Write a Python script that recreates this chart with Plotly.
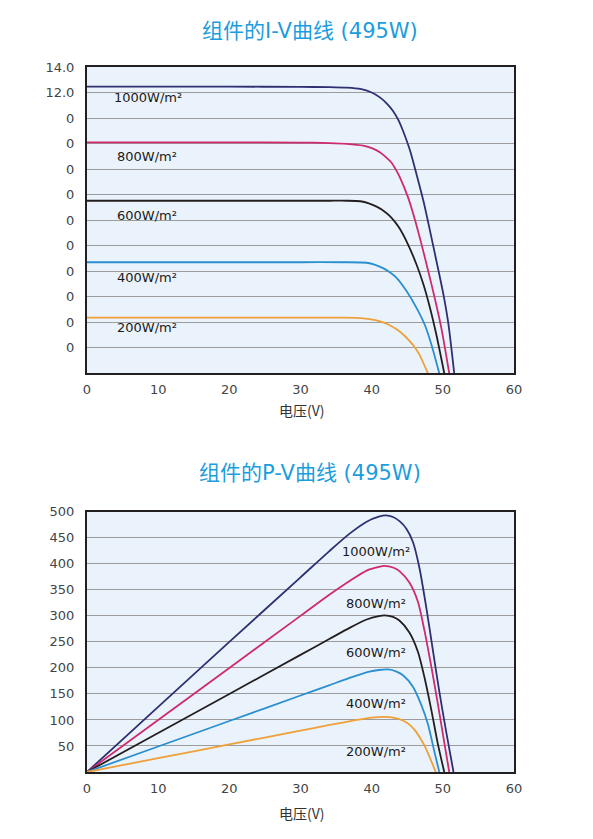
import plotly.graph_objects as go

# ---------------- data ----------------
labels = ["1000W/m²", "800W/m²", "600W/m²", "400W/m²", "200W/m²"]
colors = ["#2f2f74", "#cf2a6e", "#231f20", "#2a8fd0", "#efa038"]

# I-V curves (voltage V, current in grid units)
iv_v_1000 = [0, 10, 20, 30, 34.1, 36.5, 38.4, 40.0, 41.2, 42.2, 43.0, 43.8, 44.4, 45.4, 46.3, 47.3, 48.2, 49.1, 50.1, 50.8, 51.6]
iv_i_1000 = [11.23, 11.23, 11.23, 11.22, 11.21, 11.19, 11.14, 11.0, 10.8, 10.55, 10.28, 9.9, 9.5, 8.72, 7.8, 6.72, 5.58, 4.4, 3.06, 1.9, 0]
iv_v_800 = [0, 10, 20, 30, 34.1, 36.5, 38.8, 40.2, 41.2, 42.0, 42.8, 43.4, 44.0, 45.1, 46.1, 47.0, 47.96, 48.9, 49.8, 50.9]
iv_i_800 = [9.05, 9.05, 9.05, 9.04, 9.02, 8.99, 8.92, 8.8, 8.65, 8.47, 8.25, 7.98, 7.66, 6.9, 6.0, 5.06, 3.99, 2.9, 1.76, 0]
iv_v_600 = [0, 10, 20, 30, 34.1, 36.5, 38.4, 39.6, 40.7, 41.7, 42.6, 43.3, 44.0, 45.1, 46.3, 47.3, 48.2, 49.1, 50.2]
iv_i_600 = [6.76, 6.76, 6.76, 6.76, 6.76, 6.76, 6.74, 6.66, 6.53, 6.36, 6.15, 5.92, 5.64, 5.05, 4.26, 3.46, 2.56, 1.5, 0]
iv_v_400 = [0, 10, 20, 30, 36.0, 39.3, 40.5, 41.6, 42.6, 43.5, 44.9, 46.3, 47.5, 48.4, 49.5]
iv_i_400 = [4.35, 4.35, 4.35, 4.35, 4.35, 4.33, 4.25, 4.12, 3.95, 3.74, 3.22, 2.56, 1.87, 1.12, 0]
iv_v_200 = [0, 10, 20, 30, 35.5, 37.9, 39.7, 41.2, 42.4, 43.5, 44.5, 45.4, 46.2, 46.8, 47.9]
iv_i_200 = [2.18, 2.18, 2.18, 2.18, 2.18, 2.17, 2.12, 2.03, 1.9, 1.72, 1.5, 1.24, 0.96, 0.68, 0]

# P-V curves (voltage V, power W)
pv_v_1000 = [0, 10, 20, 30, 34.1, 36.9, 39.3, 41.0, 42.0, 43.0, 44.0, 44.9, 45.8, 46.7, 47.7, 48.6, 49.5, 50.5, 51.5]
pv_p_1000 = [0, 125, 250, 374, 425, 458, 481, 490.5, 493, 490, 481, 467, 442, 393, 314, 234, 155, 75, 0]
pv_v_800 = [0, 10, 20, 30, 34.1, 36.9, 39.3, 41.0, 41.8, 43.0, 43.9, 45.3, 46.5, 47.4, 48.4, 49.3, 50.1, 50.9]
pv_p_800 = [0, 100, 200, 300, 341, 367, 387, 394, 396, 393, 386, 364, 327, 273, 201, 131, 65, 0]
pv_v_600 = [0, 10, 20, 30, 34.1, 36.9, 39.3, 41.0, 41.8, 43.0, 43.9, 45.3, 46.5, 47.4, 48.4, 49.3, 50.2]
pv_p_600 = [0, 75, 150, 225, 256, 277, 293, 299.5, 301, 298, 291, 268, 231, 183, 118, 54, 0]
pv_v_400 = [0, 10, 20, 30, 34.1, 36.9, 39.7, 41.0, 42.3, 43.4, 44.4, 45.8, 47.0, 47.9, 48.8, 49.5]
pv_p_400 = [0, 49, 98, 147, 167, 181, 193, 196, 197, 193.5, 186, 164, 128, 92, 40, 0]
pv_v_200 = [0, 10, 20, 30, 34.1, 37.9, 40.0, 41.8, 43.2, 44.4, 45.4, 46.2, 47.0, 47.6, 49.0]
pv_p_200 = [0, 26.5, 53, 79.5, 90.4, 100, 104.5, 106, 104, 99, 90, 78, 61, 46, 0]

# label anchor positions
iv_label_x = [3.5, 3.95, 3.95, 3.95, 3.95]
iv_label_y = [10.8, 8.48, 6.2, 3.76, 1.78]
pv_label_x = [35.5, 36.1, 36.1, 36.1, 36.1]
pv_label_y = [424, 324, 230, 132, 40]

x_ticks = [0, 10, 20, 30, 40, 50, 60]
iv_tickvals = list(range(1, 13))
iv_ticktext = ["0"] * 10 + ["12.0", "14.0"]
pv_tickvals = [50, 100, 150, 200, 250, 300, 350, 400, 450, 500]
pv_ticktext = [str(v) for v in pv_tickvals]

title_iv = "组件的I-V曲线 (495W)"
title_pv = "组件的P-V曲线 (495W)"
x_title = "电压(V)"

# ---------------- figure ----------------
fig = go.Figure()

iv_sets = [(iv_v_1000, iv_i_1000), (iv_v_800, iv_i_800), (iv_v_600, iv_i_600),
           (iv_v_400, iv_i_400), (iv_v_200, iv_i_200)]
pv_sets = [(pv_v_1000, pv_p_1000), (pv_v_800, pv_p_800), (pv_v_600, pv_p_600),
           (pv_v_400, pv_p_400), (pv_v_200, pv_p_200)]

line_style = dict(width=1.8, shape="spline", smoothing=0.7)
for (vx, vy), c in zip(iv_sets, colors):
    fig.add_trace(go.Scatter(x=vx, y=vy, mode="lines", xaxis="x", yaxis="y",
                             line=dict(color=c, **line_style),
                             showlegend=False, hoverinfo="skip"))
for (vx, vy), c in zip(pv_sets, colors):
    fig.add_trace(go.Scatter(x=vx, y=vy, mode="lines", xaxis="x2", yaxis="y2",
                             line=dict(color=c, **line_style),
                             showlegend=False, hoverinfo="skip"))

txt_font = dict(family="DejaVu Sans", size=13, color="#1a1a1a")
ann = []
for lab, x, y in zip(labels, iv_label_x, iv_label_y):
    ann.append(dict(text=lab, x=x, y=y, xref="x", yref="y", xanchor="left", yanchor="middle",
                    showarrow=False, font=txt_font))
for lab, x, y in zip(labels, pv_label_x, pv_label_y):
    ann.append(dict(text=lab, x=x, y=y, xref="x2", yref="y2", xanchor="left", yanchor="middle",
                    showarrow=False, font=txt_font))

# paper coordinates: 0 -> pixel y 771.7, 1 -> pixel y 67.3
def py(px):
    return (771.7 - px) / 704.4

title_font = dict(family="DejaVu Sans, Noto Sans CJK SC", size=21, color="#1c9ddd")
ann.append(dict(text=title_iv, x=0.522, y=py(31), xref="paper", yref="paper",
                xanchor="center", yanchor="middle", showarrow=False, font=title_font))
ann.append(dict(text=title_pv, x=0.522, y=py(473), xref="paper", yref="paper",
                xanchor="center", yanchor="middle", showarrow=False, font=title_font))
xt_font = dict(family="Noto Sans CJK SC", size=14, color="#333333")
ann.append(dict(text=x_title, x=0.503, y=py(410), xref="paper", yref="paper",
                xanchor="center", yanchor="middle", showarrow=False, font=xt_font))
ann.append(dict(text=x_title, x=0.503, y=py(813), xref="paper", yref="paper",
                xanchor="center", yanchor="middle", showarrow=False, font=xt_font))

tick_font = dict(family="DejaVu Sans", size=13, color="#444444")
grid = "#9c9c9c"
line_c = "#231f20"

common_x = dict(range=[0, 60], tickvals=x_ticks, showgrid=False, zeroline=False,
                showline=True, mirror=True, linecolor=line_c, linewidth=2,
                tickfont=tick_font, ticks="", ticklabelstandoff=3, fixedrange=True)
common_y = dict(showgrid=True, gridcolor=grid, gridwidth=1, zeroline=False,
                showline=True, mirror=True, linecolor=line_c, linewidth=2,
                tickfont=tick_font, ticks="", ticklabelstandoff=8, fixedrange=True)

fig.update_layout(
    width=593, height=839,
    margin=dict(l=87, r=79, t=67, b=67),
    paper_bgcolor="white",
    plot_bgcolor="#eaf3fb",
    showlegend=False,
    xaxis=dict(**common_x, domain=[0, 1], anchor="y"),
    yaxis=dict(**common_y, domain=[0.5656, 1], anchor="x", range=[0, 12],
               tickvals=iv_tickvals, ticktext=iv_ticktext),
    xaxis2=dict(**common_x, domain=[0, 1], anchor="y2"),
    yaxis2=dict(**common_y, domain=[0, 0.3691], anchor="x2", range=[0, 500],
                tickvals=pv_tickvals, ticktext=pv_ticktext),
    annotations=ann,
)

fig.write_html("out.html")
